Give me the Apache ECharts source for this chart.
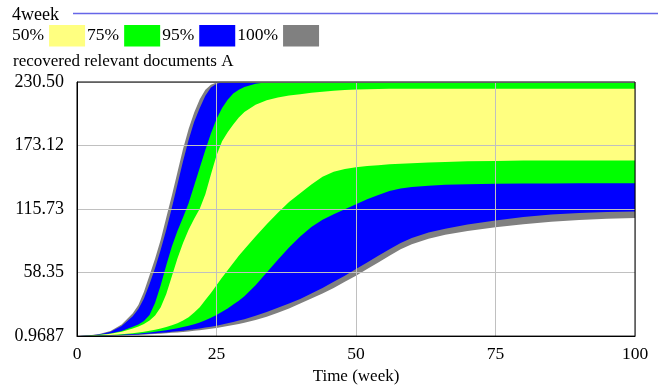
<!DOCTYPE html>
<html>
<head>
<meta charset="utf-8">
<title>recovered relevant documents A</title>
<script src="https://cdn.jsdelivr.net/npm/echarts@6/dist/echarts.min.js"></script>
<style>
  html, body { margin: 0; padding: 0; background: #ffffff; }
  #chart { width: 658px; height: 390px; }
</style>
</head>
<body>
<div id="chart"></div>
<script>
// Simulation time (weeks)
const TIME = [0, 2, 4, 6, 8, 10, 11, 12, 13, 14, 15, 16, 17, 18, 19, 20, 21, 22, 23, 24, 25, 26, 27, 28, 29, 30,
  32, 34, 36, 38, 40, 42, 44, 46, 48, 50, 52, 54, 56, 58, 60, 63, 66, 70, 75, 80, 85, 90, 95, 100];

// Sensitivity envelope: upper bounds of each confidence band
const UPPER_100 = [0.9687, 1.5, 2.8, 5.5, 11.5, 21.5, 29, 41, 56, 71, 88, 108, 128, 149, 170, 188, 203, 215, 223.5, 228, 230, 230.5, 230.5, 230.5, 230.5, 230.5,
  230.5, 230.5, 230.5, 230.5, 230.5, 230.5, 230.5, 230.5, 230.5, 230.5, 230.5, 230.5, 230.5, 230.5, 230.5, 230.5, 230.5, 230.5, 230.5, 230.5, 230.5, 230.5, 230.5, 230.5];
const UPPER_95 = [0.9687, 1.4, 2.5, 4.8, 10, 19, 25.5, 35, 48, 62.5, 79, 97, 117, 138, 159, 178, 194.5, 207, 218, 225.5, 229, 230.2, 230.5, 230.5, 230.5, 230.5,
  230.5, 230.5, 230.5, 230.5, 230.5, 230.5, 230.5, 230.5, 230.5, 230.5, 230.5, 230.5, 230.5, 230.5, 230.5, 230.5, 230.5, 230.5, 230.5, 230.5, 230.5, 230.5, 230.5, 230.5];
const UPPER_75 = [0.9687, 1.3, 2.1, 3.3, 5.5, 9.5, 11.5, 14.5, 20, 31, 47, 65, 82, 96, 108, 121, 137, 153, 169, 184, 197, 207, 214.5, 220, 223.5, 226,
  229, 230.2, 230.5, 230.5, 230.5, 230.5, 230.5, 230.5, 230.5, 230.5, 230.5, 230.5, 230.5, 230.5, 230.5, 230.5, 230.5, 230.5, 230.5, 230.5, 230.5, 230.5, 230.5, 230.5];
const UPPER_50 = [0.9687, 1.2, 1.9, 3.1, 5.0, 7.8, 9.7, 12, 15, 19.5, 27, 39, 55, 71, 85, 97, 107, 116, 129, 147, 164, 177, 185, 192, 198.5, 203.5,
  210, 214, 216.5, 218.2, 219.5, 220.7, 221.7, 222.5, 223.2, 223.7, 224, 224.2, 224.3, 224.4, 224.4, 224.5, 224.5, 224.5, 224.5, 224.5, 224.5, 224.5, 224.5, 224.5];

// Lower bounds of each confidence band
const LOWER_50 = [0.9687, 1.1, 1.4, 1.9, 2.6, 3.6, 4.2, 5, 5.8, 6.8, 7.9, 9.2, 10.8, 12.6, 15, 18, 22.3, 27, 33.5, 40, 47, 54, 60.5, 67, 73.5, 79.5,
  91, 102, 112.5, 122, 130, 138, 145, 149.5, 152, 153.5, 154.6, 155.4, 156.1, 156.6, 157.1, 157.7, 158.2, 158.8, 159.2, 159.5, 159.6, 159.7, 159.7, 159.7];
const LOWER_75 = [0.9687, 1.05, 1.25, 1.6, 2.1, 2.8, 3.2, 3.7, 4.2, 4.8, 5.5, 6.2, 7.1, 8, 9.1, 10.3, 11.7, 13.3, 15.3, 17.5, 20, 23, 26, 29.5, 33, 37,
  47, 58.5, 70, 81, 91, 99.5, 106, 111, 115.5, 120, 124.5, 128.5, 132, 134.2, 135.6, 136.8, 137.6, 138.2, 138.6, 138.8, 138.9, 139, 139, 139];
const LOWER_95 = [0.9687, 1.02, 1.15, 1.4, 1.75, 2.2, 2.5, 2.8, 3.1, 3.5, 3.9, 4.3, 4.8, 5.3, 5.9, 6.5, 7.2, 7.9, 8.7, 9.5, 10.4, 11.4, 12.5, 13.7, 15, 16.3,
  19.3, 22.8, 26.5, 30.5, 34.5, 39.5, 44.5, 50, 55.5, 61.5, 67.5, 73.5, 79.5, 85, 89.5, 94.5, 98, 101.8, 105.5, 108.5, 110.7, 112.2, 113.1, 113.6];
const LOWER_100 = [0.9687, 1.0, 1.08, 1.25, 1.5, 1.85, 2.05, 2.3, 2.55, 2.85, 3.15, 3.5, 3.9, 4.3, 4.75, 5.2, 5.7, 6.3, 6.9, 7.6, 8.3, 9.1, 10, 10.9, 11.9, 13,
  15.5, 18.5, 22, 26, 30.5, 35, 39.5, 44.5, 50, 55.5, 61.5, 67.5, 73.5, 79.5, 84, 89, 92.5, 96, 99.3, 102, 104.2, 105.8, 106.9, 107.6];

// Axis ticks
const X_TICKS = [0, 25, 50, 75, 100];
const Y_TICKS = [0.9687, 58.35, 115.73, 173.12, 230.50];
const Y_TICK_LABELS = ['0.9687', '58.35', '115.73', '173.12', '230.50'];

// Band legend
const BAND_NAMES = ['50%', '75%', '95%', '100%'];
const BAND_COLORS = { '50%': '#ffff80', '75%': '#00ff00', '95%': '#0000ff', '100%': '#808080' };

const FONT = '"Liberation Serif", "Times New Roman", serif';

// Each layer fills from its curve down to the axis; later layers paint over earlier ones,
// so the paint order leaves each confidence band visible between its two bounds.
function layer(name, values, color) {
  return {
    type: 'line',
    name: name,
    data: TIME.map((t, i) => [t, values[i]]),
    showSymbol: false,
    symbol: 'none',
    lineStyle: { width: 0 },
    itemStyle: { color: color },
    areaStyle: { color: color, opacity: 1, origin: 'start' },
    silent: true,
    animation: false,
    z: 2
  };
}

const series = [
  layer('100%', UPPER_100, BAND_COLORS['100%']),
  layer('95%', UPPER_95, BAND_COLORS['95%']),
  layer('75%', UPPER_75, BAND_COLORS['75%']),
  layer('50%', UPPER_50, BAND_COLORS['50%']),
  layer('75%', LOWER_50, BAND_COLORS['75%']),
  layer('95%', LOWER_75, BAND_COLORS['95%']),
  layer('100%', LOWER_95, BAND_COLORS['100%']),
  layer('min', LOWER_100, '#ffffff')
];

const chart = echarts.init(document.getElementById('chart'), null, { renderer: 'canvas' });

chart.setOption({
  animation: false,
  backgroundColor: '#ffffff',
  textStyle: { fontFamily: FONT, color: '#000' },
  graphic: [
    {
      type: 'text', left: 12, top: 6.5,
      style: { text: '4week', font: '18px ' + FONT, fill: '#000' }
    },
    {
      type: 'line',
      shape: { x1: 73, y1: 13.5, x2: 658, y2: 13.5 },
      style: { stroke: '#6666e8', lineWidth: 1.5 }
    },
    {
      type: 'text', left: 13, top: 53,
      style: { text: 'recovered relevant documents A', font: '17px ' + FONT, fill: '#000' }
    }
  ],
  legend: {
    left: 12,
    top: 25,
    orient: 'horizontal',
    align: 'right',
    icon: 'rect',
    itemWidth: 36,
    itemHeight: 21.5,
    itemGap: 2,
    padding: 0,
    selectedMode: false,
    itemStyle: { borderWidth: 0 },
    textStyle: { fontFamily: FONT, fontSize: 17.5, color: '#000', padding: 0 },
    data: BAND_NAMES.map(n => ({ name: n, itemStyle: { color: BAND_COLORS[n] } }))
  },
  grid: {
    left: 77,
    top: 82,
    width: 558,
    height: 263,
    show: true,
    backgroundColor: 'transparent',
    borderColor: '#000',
    borderWidth: 1,
    z: 6
  },
  xAxis: {
    type: 'value',
    min: X_TICKS[0],
    max: X_TICKS[X_TICKS.length - 1],
    interval: X_TICKS[1] - X_TICKS[0],
    z: 5,
    name: 'Time (week)',
    nameLocation: 'middle',
    nameGap: 27,
    nameTextStyle: { fontFamily: FONT, fontSize: 17, color: '#000' },
    axisLine: { show: true, lineStyle: { color: '#000', width: 1 } },
    axisTick: { show: false },
    axisLabel: { margin: 9, fontFamily: FONT, fontSize: 17.5, color: '#000', showMinLabel: true, showMaxLabel: true },
    splitLine: { show: true, lineStyle: { color: '#c0c0c0', width: 1 } }
  },
  yAxis: {
    type: 'value',
    min: Y_TICKS[0],
    max: Y_TICKS[Y_TICKS.length - 1],
    z: 5,
    axisLine: { show: true, lineStyle: { color: '#000', width: 1 } },
    axisTick: { show: false, customValues: Y_TICKS },
    axisLabel: {
      customValues: Y_TICKS,
      margin: 13,
      padding: [0, 0, 2, 0],
      fontFamily: FONT,
      fontSize: 18,
      color: '#000',
      formatter: function (value) {
        let best = 0;
        for (let i = 1; i < Y_TICKS.length; i++) {
          if (Math.abs(Y_TICKS[i] - value) < Math.abs(Y_TICKS[best] - value)) best = i;
        }
        return Y_TICK_LABELS[best];
      }
    },
    splitLine: { show: true, lineStyle: { color: '#c0c0c0', width: 1 } }
  },
  series: series
});
</script>
</body>
</html>
